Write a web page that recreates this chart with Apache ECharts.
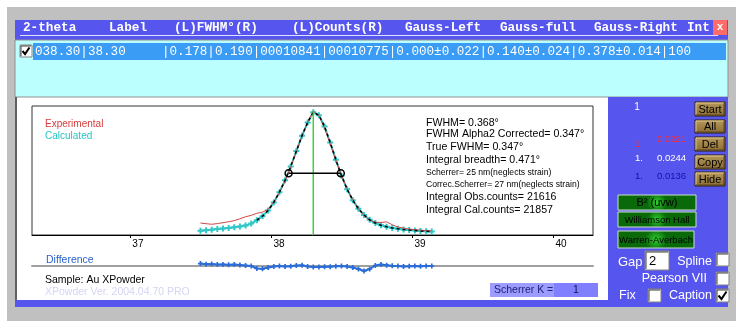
<!DOCTYPE html>
<html><head><meta charset="utf-8">
<script src="https://cdn.jsdelivr.net/npm/echarts@6/dist/echarts.min.js"></script>
<style>html,body{margin:0;padding:0;background:#fff}#c{width:736px;height:321px}</style>
</head><body><div id="c"></div>
<script>
// ---- data ----
const twoTheta = [37.50,37.54,37.58,37.62,37.66,37.70,37.74,37.78,37.82,37.86,37.90,37.94,37.98,38.02,38.06,38.10,38.14,38.18,38.22,38.26,38.30,38.34,38.38,38.42,38.46,38.50,38.54,38.58,38.62,38.66,38.70,38.74,38.78,38.82,38.86,38.90,38.94,38.98,39.02,39.06,39.10,39.14];
const experimental = [1050,990,940,1000,1080,1160,1260,1420,1600,1720,1900,2000,2250,2900,3700,4700,5950,7300,8650,9900,10860,10450,9350,8000,6550,5250,4050,3100,2300,1700,1300,1120,1100,1150,900,700,600,520,470,430,390,350];
const calculated = [380,420,470,520,570,620,680,750,830,1000,1300,1650,2150,2850,3750,4800,6000,7350,8700,9850,10750,10500,9500,8100,6600,5200,4000,3050,2300,1750,1330,1050,850,720,620,540,480,430,390,350,320,300];
const difference = [2.4,1.8,2.0,1.5,1.6,1.2,1.5,1.0,0.5,0,-2.5,-2.8,-1.5,-0.5,0,-0.5,-0.3,0.5,0.7,-0.5,-1.0,-1.0,-0.8,-0.7,-0.2,0,-0.5,-1.5,-3.0,-5.0,-3.0,0.5,1.5,0.8,0.2,0,-0.5,-0.3,0,-0.3,0,0];
const tickValues = [37,38,39,40];
const tickLabels = ['37','38','39','40'];
const peakPos = 38.30, peakCounts = 10862;
const fwhmLeft = 38.125, fwhmRight = 38.495, halfMax = 5405;
const fitStart = 37.90;
const infoLines = ['FWHM= 0.368°','FWHM Alpha2 Corrected= 0.347°','True FWHM= 0.347°','Integral breadth= 0.471°','Scherrer= 25 nm(neglects strain)','Correc.Scherrer= 27 nm(neglects strain)','Integral Obs.counts= 21616','Integral Cal.counts= 21857'];
const headerCols = ['2-theta','Label','(L)FWHM°(R)','(L)Counts(R)','Gauss-Left','Gauss-full','Gauss-Right','Int'];
const rowLeft = '038.30|38.30';
const rowRight = '|0.178|0.190|00010841|00010775|0.000±0.022|0.140±0.024|0.378±0.014|100';

// ---- layout ----
const X_MIN = 36.306, X_MAX = 40.283;
const BLUE = '#5656ee';
const MONO = '"Liberation Mono", "DejaVu Sans Mono", monospace';
const SANS = '"Liberation Sans", Arial, sans-serif';
const plus = 'path://M2,0H4V2H6V4H4V6H2V4H0V2H2Z';

const G = [];
function rect(x,y,w,h,fill,stroke,lw,z){G.push({type:'rect',silent:true,z:z||1,shape:{x:x,y:y,width:w,height:h},style:{fill:fill||'transparent',stroke:stroke||'transparent',lineWidth:lw||0}});}
function text(x,y,s,font,color,align,z){G.push({type:'text',silent:true,z:z||10,x:x,y:y,style:{text:s,font:font,fill:color,align:align||'left',verticalAlign:'middle'}});}
function line(pts,color,lw,z){G.push({type:'polyline',silent:true,z:z||5,shape:{points:pts},style:{stroke:color,lineWidth:lw||1,fill:'transparent'}});}
function bevel(x,y,w,h,light,dark){line([[x,y+h],[x,y],[x+w,y]],light,1,6);line([[x+w,y],[x+w,y+h],[x,y+h]],dark,1,6);}
function checkbox(x,y,s,checked){rect(x,y,s,s,'#fff','#808080',1,6);line([[x+1,y+s-1],[x+1,y+1],[x+s-1,y+1]],'#404040',1,7);
  if(checked) line([[x+2.5,y+s/2],[x+s*0.42,y+s-3],[x+s-2.5,y+2.5]],'#000',2,8);}
function goldBtn(x,y,w,h,label){rect(x,y,w,h,{type:'linear',x:0,y:0,x2:0,y2:1,colorStops:[{offset:0,color:'#b89a5a'},{offset:1,color:'#8a6c34'}]},'#2a2010',1,5);
  bevel(x+1,y+1,w-2,h-2,'#e0c890','#5a4420');text(x+w/2,y+h/2+0.5,label,'11px '+SANS,'#000','center');}
function greenBtn(x,y,w,h,label,fs){rect(x,y,w,h,{type:'radial',x:0.5,y:0.5,r:0.6,colorStops:[{offset:0,color:'#30d030'},{offset:1,color:'#0a6a0a'}]},'#c8e0c8',1,5);
  text(x+w/2,y+h/2+0.5,label,(fs||10)+'px '+SANS,'#000','center');}

// outer gray frame (strips, not covering the plot)
rect(7,7,729,13,'#c0c0c0',null,0,0);
rect(7,20,8,301,'#c0c0c0',null,0,0);
rect(7,307,729,14,'#c0c0c0',null,0,0);
rect(728,20,8,287,'#c0c0c0',null,0,0);
// window pieces
rect(15,20,713,20,BLUE,null,0,1);
rect(20,35,698,1,'#e0e0ff',null,0,2);
rect(15,40,713,57,'#bbffff','#909090',1,1);
rect(33,43,693,17,'#3a9cf4',null,0,2);
rect(608,97,120,210,BLUE,null,0,1);
rect(15,300,593,7,BLUE,null,0,1);
rect(15,97,2,203,'#606060',null,0,2);
rect(713,20,14,15,'#ff6a6a',null,0,3);
text(720,27,'x','bold 11px '+SANS,'#fff','center');
// header
const headerX = [23,109,174,292,405,500,594,687];
headerCols.forEach((h,i)=>text(headerX[i],28,h,'bold 12.7px '+MONO,'#fff'));
checkbox(20,45,12,true);
text(35,52,rowLeft,'12.6px '+MONO,'#fff');
text(162,52,rowRight,'12.6px '+MONO,'#fff');
// plot annotations
text(45,124,'Experimental','10px '+SANS,'#d83c3c');
text(45,136,'Calculated','10px '+SANS,'#26c4c4');
const infoY=[123,134.5,147,160,173,184.5,197.5,210];
infoLines.forEach((s,i)=>text(426,infoY[i],s,(i===4||i===5?'8.6px ':'10.6px ')+SANS,'#000'));
text(46,260,'Difference','10.5px '+SANS,'#2a62cc');
text(45,280,'Sample: Au XPowder','10.5px '+SANS,'#000');
text(45,292,'XPowder Ver. 2004.04.70 PRO','10.5px '+SANS,'#d4d4f6');
rect(490,283,64,14,'#9c9cff',null,0,3);
rect(554,283,44,14,'#8080ff',null,0,3);
text(494,290.5,'Scherrer K =','10.5px '+SANS,'#20207a');
text(576,290.5,'1','10.5px '+SANS,'#101050','center');
// right panel
text(637,107,'1','10px '+SANS,'#fff','center');
goldBtn(695,102,30,14,'Start');
goldBtn(695,120,30,13,'All');
goldBtn(695,137,30,14,'Del');
goldBtn(695,155,30,14,'Copy');
goldBtn(695,172,30,14,'Hide');
text(635,144,'1.','9.5px '+SANS,'#ff2a2a');text(657,139,'0.0221','9.5px '+SANS,'#ff2a2a');
text(635,158,'1.','9.5px '+SANS,'#fff');text(657,158,'0.0244','9.5px '+SANS,'#fff');
text(635,176,'1.','9.5px '+SANS,'#1010b0');text(657,176,'0.0136','9.5px '+SANS,'#1010b0');
greenBtn(618,195,78,15,'B² (uvw)',11);
greenBtn(618,212,78,15,'Williamson Hall',9.5);
greenBtn(618,231,76,17,'Warren-Averbach',9.5);
text(618,262,'Gap','13px '+SANS,'#fff');
rect(645,251,24,19,'#fff','#808080',1,5);
line([[646,269],[646,252],[668,252]],'#404040',1,6);
text(649,261,'2','13px '+SANS,'#000');
text(712,262,'Spline','12.5px '+SANS,'#fff','right');
checkbox(716,253,13,false);
text(707,279,'Pearson VII','12.5px '+SANS,'#fff','right');
checkbox(716,272,13,false);
text(619,296,'Fix','12.5px '+SANS,'#fff');
checkbox(648,289,13,false);
text(712,296,'Caption','12.5px '+SANS,'#fff','right');
checkbox(716,289,13,true);

// ---- series data ----
const expData = twoTheta.map((t,i)=>[t,experimental[i]]);
const calcData = twoTheta.map((t,i)=>[t,calculated[i]]);
const fitData = calcData.filter(d=>d[0]>=fitStart);
const diffData = twoTheta.map((t,i)=>[t,difference[i]]);

const chart = echarts.init(document.getElementById('c'),null,{renderer:'canvas'});
chart.setOption({
  animation:false,
  backgroundColor:'#fff',
  grid:[
    {left:32,top:106,width:561,height:129,show:true,borderColor:'#333',borderWidth:1},
    {left:32,top:256,width:561,height:20}
  ],
  xAxis:[
    {gridIndex:0,type:'value',min:X_MIN,max:X_MAX,
     axisLine:{show:true,onZero:false,lineStyle:{color:'#000',width:1}},
     axisTick:{show:true,customValues:tickValues,length:3,lineStyle:{color:'#000'}},
     axisLabel:{customValues:tickValues,formatter:v=>tickLabels[tickValues.indexOf(v)]||'',color:'#000',fontSize:10,fontFamily:SANS,margin:4,padding:[0,0,0,16]},
     splitLine:{show:false}},
    {gridIndex:1,type:'value',min:X_MIN,max:X_MAX,
     axisLine:{show:true,onZero:true,lineStyle:{color:'#a0a0a0',width:2}},
     axisTick:{show:false},axisLabel:{show:false},splitLine:{show:false}}
  ],
  yAxis:[
    {gridIndex:0,type:'value',min:0,max:11300,show:false,splitLine:{show:false}},
    {gridIndex:1,type:'value',min:-10,max:10,show:false,splitLine:{show:false}}
  ],
  graphic:{elements:G},
  series:[
    {type:'line',name:'Calculated',data:calcData,xAxisIndex:0,yAxisIndex:0,symbol:plus,symbolSize:6,showSymbol:true,
     itemStyle:{color:'#30c8c8'},lineStyle:{color:'#30c8c8',width:2},z:2,emphasis:{disabled:true}},
    {type:'line',name:'Experimental',data:expData,xAxisIndex:0,yAxisIndex:0,showSymbol:false,symbol:'none',
     lineStyle:{color:'#d04848',width:1},z:3,emphasis:{disabled:true}},
    {type:'line',name:'Fit',data:fitData,xAxisIndex:0,yAxisIndex:0,showSymbol:false,symbol:'none',
     lineStyle:{color:'#000',width:1.5,type:[3,3]},z:4,emphasis:{disabled:true}},
    {type:'line',name:'Peak',data:[[peakPos,0],[peakPos,peakCounts]],xAxisIndex:0,yAxisIndex:0,symbol:'none',
     lineStyle:{color:'#40d040',width:1.5},z:5,emphasis:{disabled:true}},
    {type:'line',name:'FWHM',data:[[fwhmLeft,halfMax],[fwhmRight,halfMax]],xAxisIndex:0,yAxisIndex:0,symbol:'circle',symbolSize:7,showSymbol:true,
     itemStyle:{color:'rgba(255,255,255,0)',borderColor:'#000',borderWidth:1.5},lineStyle:{color:'#000',width:1.5},z:6,emphasis:{disabled:true}},
    {type:'line',name:'Difference',data:diffData,xAxisIndex:1,yAxisIndex:1,symbol:plus,symbolSize:5,showSymbol:true,
     itemStyle:{color:'#2a6cd8'},lineStyle:{color:'#2a6cd8',width:2},z:3,emphasis:{disabled:true}}
  ]
});
</script>
</body></html>
